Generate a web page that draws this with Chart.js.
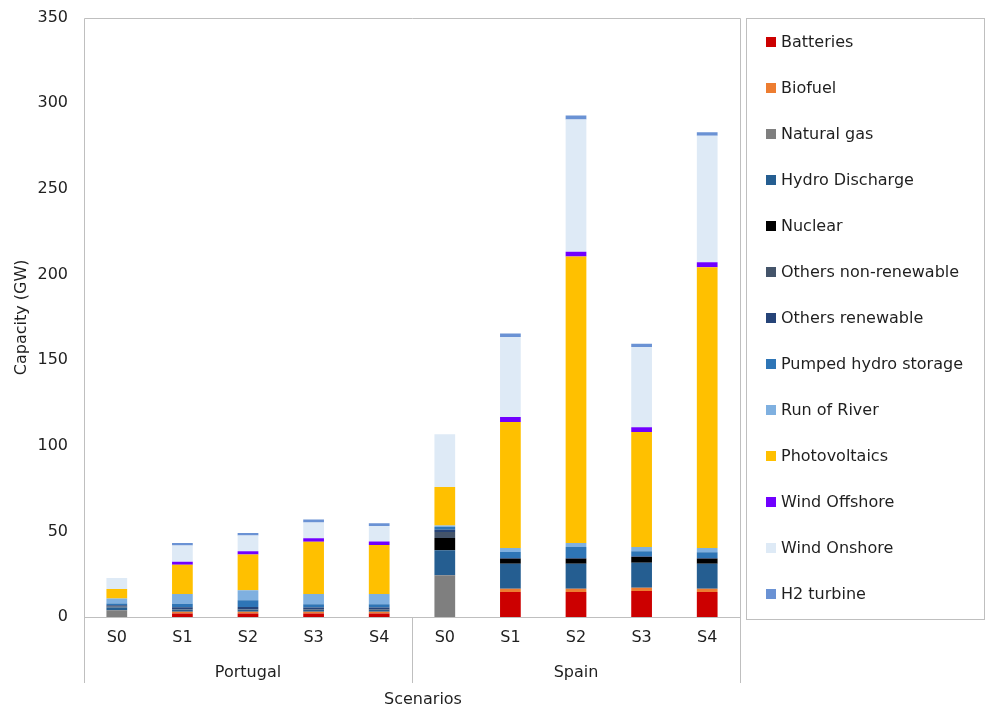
<!doctype html>
<html lang="en">
<head>
    <title>Installed capacity by scenario</title>
    <script src="https://cdnjs.cloudflare.com/ajax/libs/Chart.js/4.4.1/chart.umd.min.js"></script>
    <style>
        html, body { margin: 0; padding: 0; background: #fff; }
        #wrap { width: 986px; height: 714px; }
    </style>
</head>
<body>
<div id="wrap">
    <canvas id="chart" width="986" height="714"></canvas>
</div>

<script>
    // scenarios, grouped by country
    const scenarios = ['S0', 'S1', 'S2', 'S3', 'S4', 'S0', 'S1', 'S2', 'S3', 'S4'];
    const countries = ['Portugal', 'Spain'];
    const yTicks = [0, 50, 100, 150, 200, 250, 300, 350];

    // capacity per technology (GW), Portugal S0..S4 then Spain S0..S4
    const batteries          = [0,   2,   2,   2,    2,    0,    14.6, 14.6,  15.2, 14.6];
    const biofuel            = [0,   1,   1,   1,    1,    0,    1.95, 1.95,  1.95, 1.95];
    const naturalGas         = [4,   0,   0,   0,    0,    24.4, 0,    0,     0,    0];
    const hydroDischarge     = [1.5, 1.2, 1.2, 1.1,  1.1,  14.6, 14.6, 14.6,  14.6, 14.6];
    const nuclear            = [0,   0,   0,   0,    0,    7.2,  2.9,  2.9,   3.3,  2.9];
    const othersNonRenewable = [0.6, 0.3, 0.3, 0.3,  0.3,  3.5,  0,    0,     0,    0];
    const othersRenewable    = [0.8, 1.2, 1.4, 1.1,  1.1,  1.3,  0.4,  0.4,   0.4,  0.4];
    const pumpedHydro        = [1.0, 2,   3.9, 2,    2,    1.5,  3.5,  6.4,   2.9,  3.3];
    const runOfRiver         = [2.9, 5.8, 5.8, 6,    6,    1.0,  2.3,  2.3,   2.5,  2.5];
    const photovoltaics      = [5.6, 17,  20.9, 30.4, 28.6, 22.4, 73.6, 167.4, 67.2, 164];
    const windOffshore       = [0,   1.8, 1.9, 2.1,  1.95, 0,    2.9,  2.7,   2.7,  2.9];
    const windOnshore        = [6.3, 9.4, 9.2, 9.2,  9.1,  30.8, 46.8, 77.3,  46.9, 73.8];
    const h2Turbine          = [0,   1.5, 1.5, 1.75, 1.6,  0,    1.95, 2.3,   1.95, 2.1];

    const series = [
        ['Batteries', batteries, '#CC0000'],
        ['Biofuel', biofuel, '#ED7D31'],
        ['Natural gas', naturalGas, '#7F7F7F'],
        ['Hydro Discharge', hydroDischarge, '#255E91'],
        ['Nuclear', nuclear, '#000000'],
        ['Others non-renewable', othersNonRenewable, '#44546A'],
        ['Others renewable', othersRenewable, '#264478'],
        ['Pumped hydro storage', pumpedHydro, '#2E75B6'],
        ['Run of River', runOfRiver, '#7FB0E0'],
        ['Photovoltaics', photovoltaics, '#FFC000'],
        ['Wind Offshore', windOffshore, '#7000FF'],
        ['Wind Onshore', windOnshore, '#DEEAF6'],
        ['H2 turbine', h2Turbine, '#6A92D4'],
    ];

    const FONT = 'DejaVu Sans';
    const TEXT = '#1f1f1f';
    const LINE = '#BFBFBF';

    // plot box, country groups under the axis, axis title and the boxed legend
    const decorations = {
        id: 'decorations',
        afterDraw(chart) {
            const {ctx, chartArea: a, scales: {x}} = chart;
            const step = (x.getPixelForValue(1) - x.getPixelForValue(0));
            ctx.save();
            ctx.strokeStyle = LINE;
            ctx.lineWidth = 1;

            // plot area frame
            ctx.beginPath();
            ctx.moveTo(Math.round(a.left) + 0.5, Math.round(a.bottom) + 0.5);
            ctx.lineTo(Math.round(a.left) + 0.5, Math.round(a.top) + 0.5);
            ctx.lineTo(Math.round(a.right) + 0.5, Math.round(a.top) + 0.5);
            ctx.lineTo(Math.round(a.right) + 0.5, Math.round(a.bottom) + 0.5);
            ctx.stroke();

            // category axis line
            ctx.beginPath();
            ctx.moveTo(a.left, Math.round(a.bottom) + 0.5);
            ctx.lineTo(a.right, Math.round(a.bottom) + 0.5);
            ctx.stroke();

            // group separators
            const perGroup = scenarios.length / countries.length;
            ctx.font = '16px "' + FONT + '"';
            ctx.fillStyle = TEXT;
            ctx.textAlign = 'center';
            ctx.textBaseline = 'middle';
            for (let g = 0; g <= countries.length; g++) {
                const sx = Math.round(x.getPixelForValue(g * perGroup) - step / 2) + 0.5;
                ctx.beginPath();
                ctx.moveTo(sx, a.bottom);
                ctx.lineTo(sx, 683);
                ctx.stroke();
            }
            countries.forEach((name, g) => {
                const c0 = x.getPixelForValue(g * perGroup);
                const c1 = x.getPixelForValue(g * perGroup + perGroup - 1);
                ctx.fillText(name, (c0 + c1) / 2, 673);
            });
            ctx.fillText('Scenarios', 423, 700);

            // legend box
            ctx.strokeRect(746.5, 18.5, 238, 601);
            ctx.textAlign = 'left';
            chart.data.datasets.forEach((ds, i) => {
                const cy = 42 + i * 46;
                ctx.fillStyle = ds.backgroundColor;
                ctx.fillRect(766, cy - 5, 10, 10);
                ctx.fillStyle = TEXT;
                ctx.fillText(ds.label, 781, cy + 1);
            });
            ctx.restore();
        }
    };

    new Chart(document.getElementById('chart'), {
        type: 'bar',
        data: {
            labels: scenarios,
            datasets: series.map(([label, data, color]) => ({
                label: label,
                data: data,
                backgroundColor: color,
                borderWidth: 0,
                barPercentage: 0.316,
                categoryPercentage: 1,
            })),
        },
        options: {
            responsive: false,
            animation: false,
            layout: {
                padding: {top: 10, right: 246, bottom: 0, left: 0},
            },
            plugins: {
                legend: {display: false},
                tooltip: {enabled: false},
            },
            scales: {
                x: {
                    stacked: true,
                    grid: {display: false},
                    border: {display: false},
                    ticks: {
                        color: TEXT,
                        padding: 3,
                        font: {family: FONT, size: 16},
                    },
                    afterFit(scale) {
                        scale.height = 97;
                    },
                },
                y: {
                    stacked: true,
                    min: 0,
                    max: 350,
                    grid: {display: false},
                    border: {display: false},
                    afterBuildTicks(scale) {
                        scale.ticks = yTicks.map(v => ({value: v}));
                    },
                    ticks: {
                        color: TEXT,
                        padding: 8,
                        font: {family: FONT, size: 16},
                    },
                    title: {
                        display: true,
                        text: 'Capacity (GW)',
                        color: TEXT,
                        padding: {top: 12, bottom: 0},
                        font: {family: FONT, size: 16},
                    },
                    afterFit(scale) {
                        scale.width = 84;
                    },
                },
            },
        },
        plugins: [decorations],
    });
</script>
</body>
</html>
